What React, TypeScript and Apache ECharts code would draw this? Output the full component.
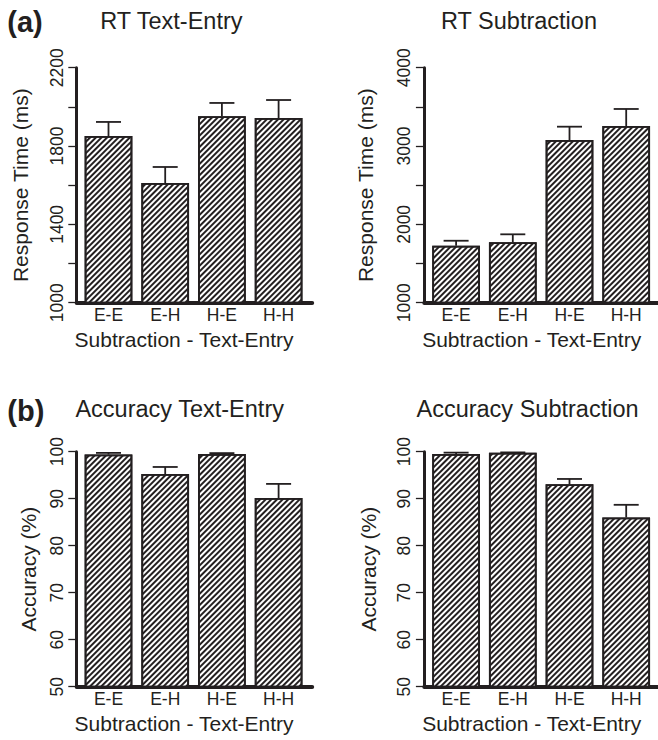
import React, { useEffect, useRef } from "react";
import * as echarts from "echarts";

// ---- data ----
const categories = ["E-E", "E-H", "H-E", "H-H"];

const rtTextEntryMean = [1851, 1611, 1952, 1943];
const rtTextEntrySE = [72, 82, 68, 92];
const rtSubtractionMean = [1728, 1771, 3077, 3256];
const rtSubtractionSE = [63, 102, 170, 217];
const accTextEntryMean = [99.4, 95.25, 99.5, 90.15];
const accTextEntrySE = [0.35, 1.5, 0.2, 3.0];
const accSubtractionMean = [99.5, 99.8, 93.1, 86.0];
const accSubtractionSE = [0.3, 0.05, 1.1, 2.7];

const rtTextEntryTickLabels = [1000, 1400, 1800, 2200];
const rtSubtractionTickLabels = [1000, 2000, 3000, 4000];
const accuracyTickLabels = [50, 60, 70, 80, 90, 100];

const titles = ["RT Text-Entry", "RT Subtraction", "Accuracy Text-Entry", "Accuracy Subtraction"];
const yNames = ["Response Time (ms)", "Response Time (ms)", "Accuracy (%)", "Accuracy (%)"];
const xName = "Subtraction - Text-Entry";
const panelLetters = ["(a)", "(b)"];

const panelData = [
  { mean: rtTextEntryMean, se: rtTextEntrySE, labels: rtTextEntryTickLabels, min: 1000, max: 2200, step: 200 },
  { mean: rtSubtractionMean, se: rtSubtractionSE, labels: rtSubtractionTickLabels, min: 1000, max: 4000, step: 500 },
  { mean: accTextEntryMean, se: accTextEntrySE, labels: accuracyTickLabels, min: 50, max: 100, step: 10 },
  { mean: accSubtractionMean, se: accSubtractionSE, labels: accuracyTickLabels, min: 50, max: 100, step: 10 },
];

// ---- layout / style ----
const FONT = "'Liberation Sans', Arial, Helvetica, sans-serif";
const INK = "#231f20";
const layout = [
  { axisX: 76.7, top: 67.7, nameGap: 46, titleX: 171.3, titleY: 20.7 },
  { axisX: 424.3, top: 67.7, nameGap: 48, titleX: 519, titleY: 20.7 },
  { axisX: 76.7, top: 451.7, nameGap: 38, titleX: 179.7, titleY: 409 },
  { axisX: 424.3, top: 451.7, nameGap: 45.5, titleX: 527.5, titleY: 409 },
];
const PLOT_H = 235;
const BAR_OFFSET = 3.45;
const BAR_GRID_W = 226.8;
const AXIS_W = 235.5;

function buildOption() {
  const grid: any[] = [];
  const xAxis: any[] = [];
  const yAxis: any[] = [];
  const series: any[] = [];
  const graphic: any[] = [];

  panelData.forEach((p, i) => {
    const L = layout[i];
    const a = 2 * i;
    const b = 2 * i + 1;
    grid.push({ left: L.axisX + BAR_OFFSET, top: L.top, width: BAR_GRID_W, height: PLOT_H });
    grid.push({ left: L.axisX, top: L.top, width: AXIS_W, height: PLOT_H });

    xAxis.push({
      type: "category",
      gridIndex: a,
      data: categories,
      axisLine: { show: false },
      axisTick: { show: false },
      axisLabel: { color: INK, fontSize: 17.5, fontFamily: FONT, margin: 3 },
      name: xName,
      nameLocation: "middle",
      nameGap: 26,
      nameTextStyle: { color: INK, fontSize: 21, fontFamily: FONT, padding: [0, 19, 0, 0] },
      splitLine: { show: false },
    });
    xAxis.push({
      type: "value",
      gridIndex: b,
      min: 0,
      max: 1,
      axisLine: { show: true, lineStyle: { color: INK, width: 4 } },
      axisTick: { show: false },
      axisLabel: { show: false },
      splitLine: { show: false },
    });

    yAxis.push({ type: "value", gridIndex: a, min: p.min, max: p.max, show: false });
    yAxis.push({
      type: "value",
      gridIndex: b,
      min: p.min,
      max: p.max,
      interval: p.step,
      axisLine: { show: true, lineStyle: { color: INK, width: 3 } },
      axisTick: { show: true, length: 8.4, lineStyle: { color: INK, width: 1.3 } },
      axisLabel: {
        color: INK,
        fontSize: 17.5,
        fontFamily: FONT,
        rotate: 90,
        margin: 11,
        formatter: (v: number) => (p.labels.indexOf(v) >= 0 ? String(v) : ""),
      },
      splitLine: { show: false },
      name: yNames[i],
      nameLocation: "middle",
      nameGap: L.nameGap,
      nameTextStyle: { color: INK, fontSize: 21, fontFamily: FONT },
    });

    series.push({
      type: "bar",
      xAxisIndex: a,
      yAxisIndex: a,
      data: p.mean,
      barWidth: 47.7,
      z: 3,
      itemStyle: {
        color: "#ffffff",
        borderColor: INK,
        borderWidth: 1.8,
        decal: {
          symbol: "rect",
          symbolSize: 1,
          color: INK,
          backgroundColor: "#ffffff",
          dashArrayX: [1, 0],
          dashArrayY: [1.2, 1.2],
          rotation: -Math.PI / 4,
        },
      },
    });
    series.push({
      type: "custom",
      xAxisIndex: a,
      yAxisIndex: a,
      z: 4,
      data: p.mean.map((m, k) => [k, m, p.se[k]]),
      renderItem: (params: any, api: any) => {
        const x = api.value(0);
        const v = api.value(1);
        const e = api.value(2);
        const p0 = api.coord([x, v]);
        const p1 = api.coord([x, v + e]);
        const half = 12.5;
        const st = { stroke: INK, lineWidth: 1.8 };
        return {
          type: "group",
          children: [
            { type: "line", shape: { x1: p0[0], y1: p0[1], x2: p1[0], y2: p1[1] }, style: st },
            { type: "line", shape: { x1: p1[0] - half, y1: p1[1], x2: p1[0] + half, y2: p1[1] }, style: st },
          ],
        };
      },
    });

    graphic.push({
      type: "text",
      x: L.titleX,
      y: L.titleY,
      style: {
        text: titles[i],
        fill: INK,
        fontSize: 23.5,
        fontFamily: FONT,
        align: "center",
        verticalAlign: "middle",
        textAlign: "center",
        textVerticalAlign: "middle",
      },
    });
  });

  [22, 411].forEach((y, k) => {
    graphic.push({
      type: "text",
      x: 7.3,
      y,
      style: {
        text: panelLetters[k],
        fill: INK,
        fontSize: 29,
        fontWeight: "bold",
        fontFamily: FONT,
        align: "left",
        verticalAlign: "middle",
        textAlign: "left",
        textVerticalAlign: "middle",
      },
    });
  });

  return {
    animation: false,
    backgroundColor: "#ffffff",
    textStyle: { fontFamily: FONT },
    grid,
    xAxis,
    yAxis,
    series,
    graphic,
  };
}

export default function App() {
  const ref = useRef<HTMLDivElement>(null);
  useEffect(() => {
    if (!ref.current) return;
    const chart = echarts.init(ref.current, null, { renderer: "svg" });
    chart.setOption(buildOption() as any);
    return () => chart.dispose();
  }, []);
  return (
    <div
      ref={ref}
      style={{ position: "absolute", left: 0, top: 0, width: 658, height: 740, background: "#fff" }}
    />
  );
}
